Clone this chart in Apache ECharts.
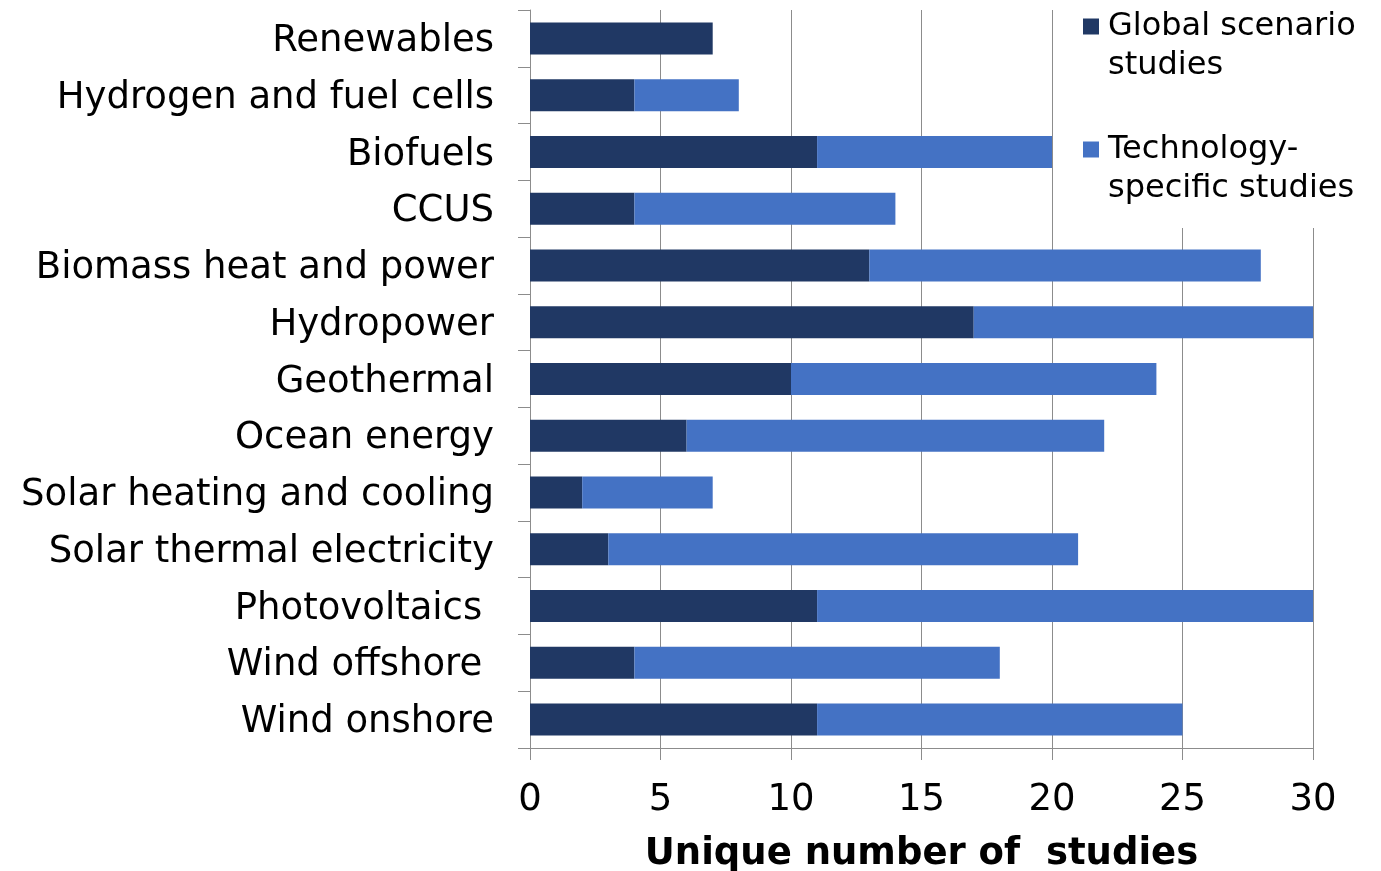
<!DOCTYPE html>
<html>
<head>
<meta charset="utf-8">
<script src="https://cdn.jsdelivr.net/npm/echarts@6/dist/echarts.min.js"></script>
<style>html,body{margin:0;padding:0;background:#fff;}#c{width:1381px;height:871px;}</style>
</head>
<body>
<div id="c"></div>
<script>
const categories = ["Renewables", "Hydrogen and fuel cells", "Biofuels", "CCUS", "Biomass heat and power", "Hydropower", "Geothermal", "Ocean energy", "Solar heating and cooling", "Solar thermal electricity", "Photovoltaics ", "Wind offshore ", "Wind onshore"];
const globalScenario = [7, 4, 11, 4, 13, 17, 10, 6, 2, 3, 11, 4, 11];
const technologySpecific = [0, 4, 9, 10, 15, 13, 14, 16, 5, 18, 19, 14, 14];
const seriesNames = ["Global scenario\nstudies", "Technology-\nspecific studies"];
const xTicks = [0, 5, 10, 15, 20, 25, 30];

const FONT = "DejaVu Sans";
const GRAY = "#8c8c8c";
const chart = echarts.init(document.getElementById('c'));
chart.setOption({
  animation: false,
  backgroundColor: "#fff",
  textStyle: { fontFamily: FONT },
  grid: { left: 530, right: 68, top: 10, bottom: 123, containLabel: false, outerBoundsMode: "none" },
  legend: {
    orient: "vertical",
    left: 1068,
    top: -37,
    padding: [5, 60, 20, 15],
    backgroundColor: "#fff",
    itemWidth: 16,
    itemHeight: 16,
    itemGap: 6,
    icon: "rect",
    z: 1,
    formatter: function (name) { return "\n" + name; },
    textStyle: { fontFamily: FONT, fontSize: 32, color: "#000", lineHeight: 39, padding: [0, 0, 0, 4] },
    data: seriesNames
  },
  xAxis: {
    type: "value",
    min: xTicks[0],
    max: xTicks[xTicks.length - 1],
    interval: 5,
    name: "Unique number of  studies",
    nameLocation: "middle",
    nameGap: 88,
    nameTextStyle: { fontFamily: FONT, fontSize: 37, fontWeight: "bold", color: "#000" },
    axisLine: { show: true, lineStyle: { color: GRAY, width: 1 } },
    axisTick: { show: true, length: 12, lineStyle: { color: GRAY } },
    axisLabel: { fontFamily: FONT, fontSize: 37, color: "#000", margin: 34 },
    splitLine: { show: true, lineStyle: { color: GRAY, width: 1 } }
  },
  yAxis: {
    type: "category",
    inverse: true,
    data: categories,
    axisLine: { show: true, lineStyle: { color: GRAY, width: 1 } },
    axisTick: { show: true, length: 12, lineStyle: { color: GRAY } },
    axisLabel: {
      fontFamily: FONT, fontSize: 37, color: "#000", margin: 36,
      formatter: function (v) { return "{c|" + v + "}"; },
      rich: { c: { fontFamily: FONT, fontSize: 37, color: "#000", padding: [6, 0, 0, 0] } }
    },
    splitLine: { show: false }
  },
  series: [
    {
      name: seriesNames[0], type: "bar", stack: "s", data: globalScenario,
      barWidth: 32, z: 3,
      itemStyle: { color: "#203864" }
    },
    {
      name: seriesNames[1], type: "bar", stack: "s", data: technologySpecific,
      barWidth: 32, z: 3,
      itemStyle: { color: "#4472C4" }
    }
  ]
});
</script>
</body>
</html>
